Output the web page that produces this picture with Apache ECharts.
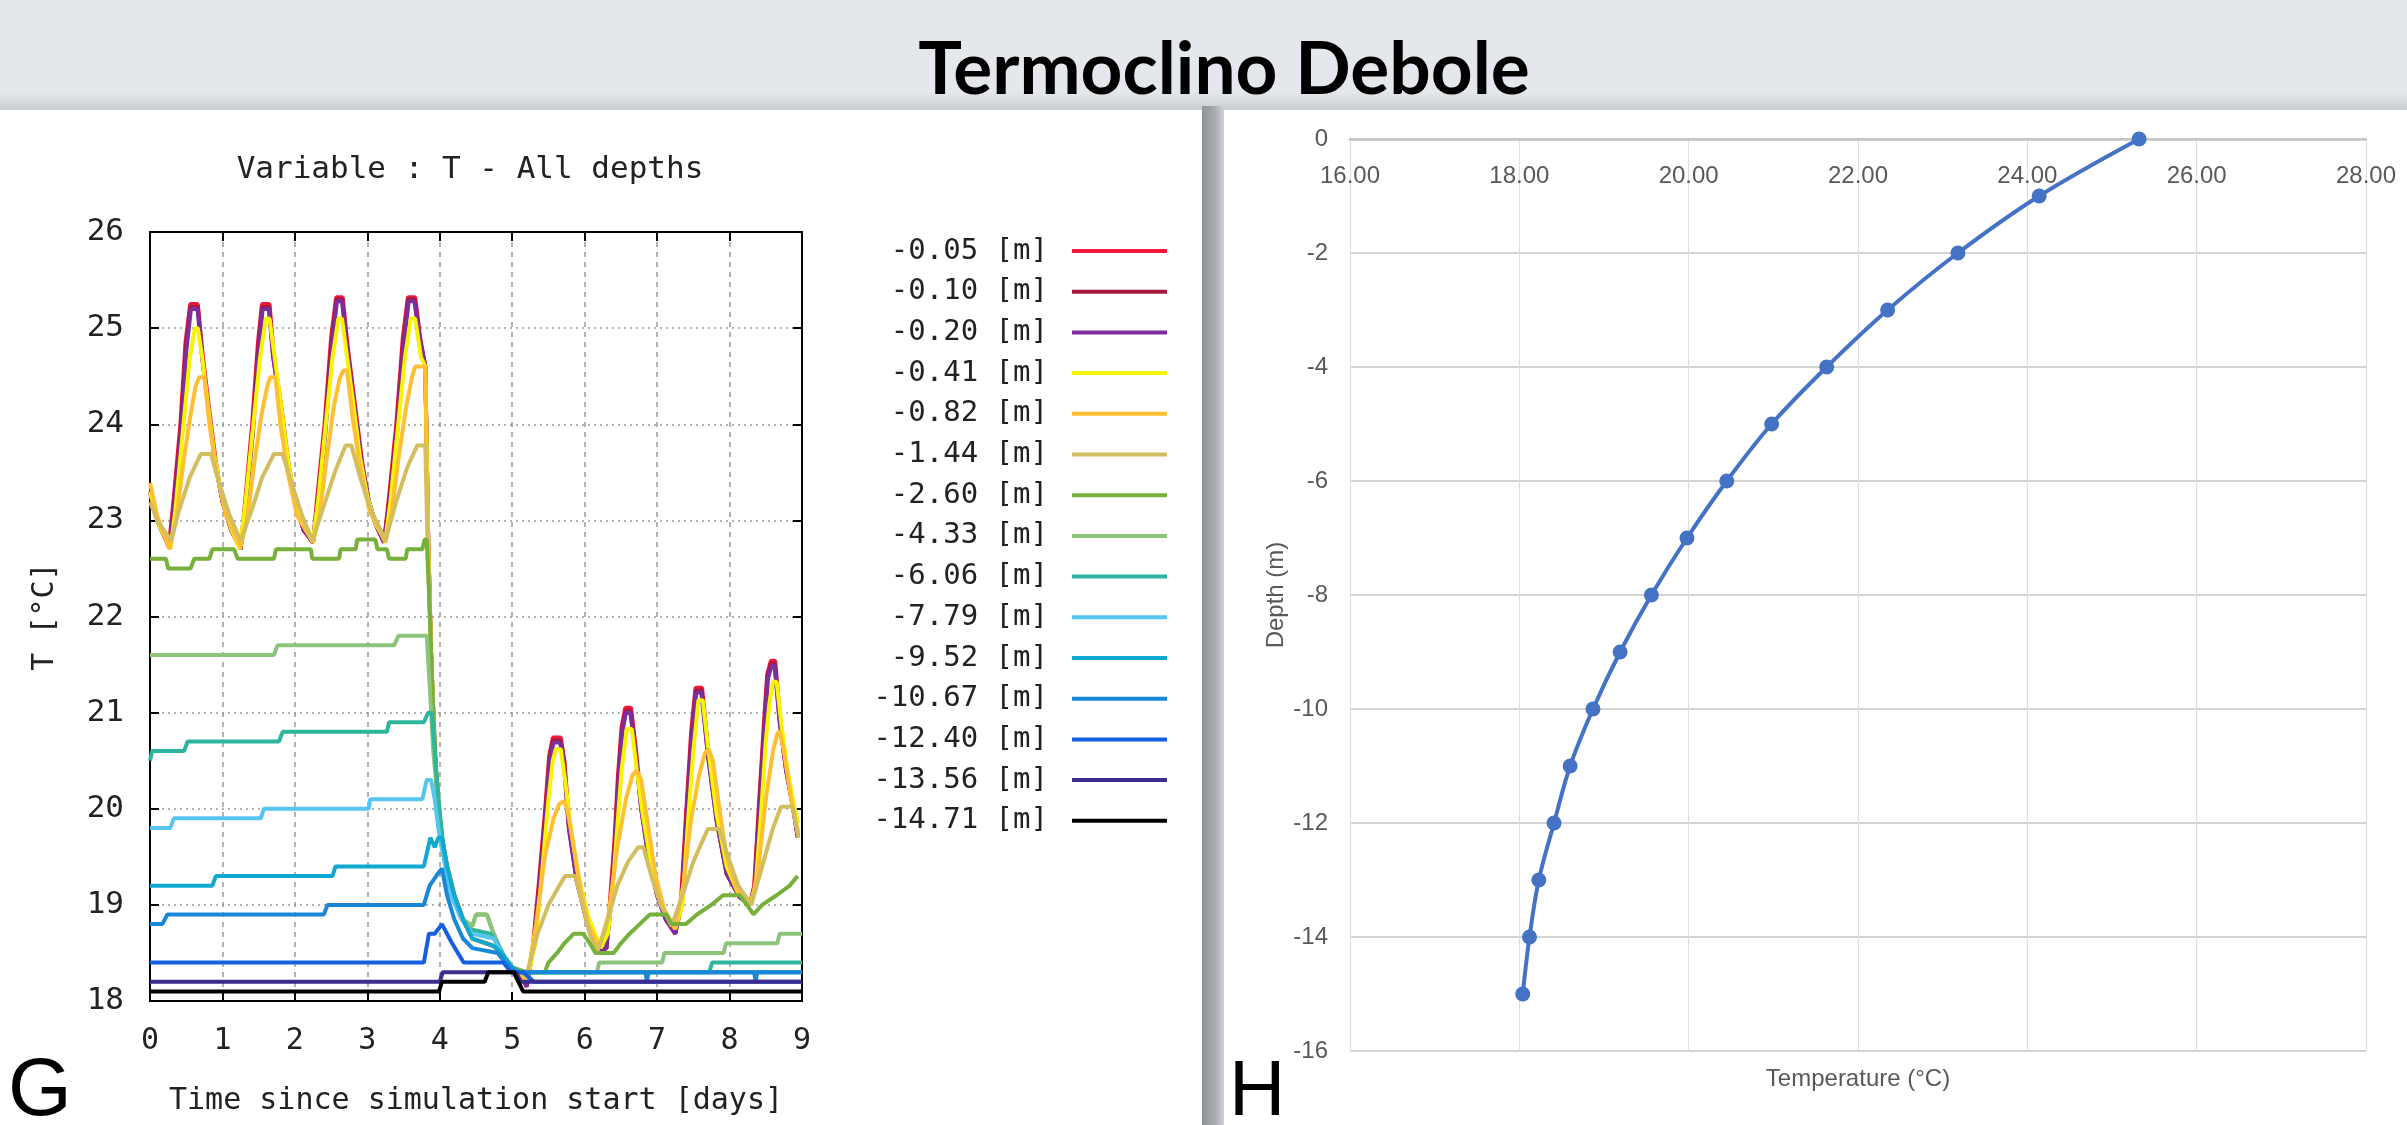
<!DOCTYPE html>
<html><head><meta charset="utf-8">
<script src="https://cdn.jsdelivr.net/npm/echarts/dist/echarts.min.js"></script>
<style>html,body{margin:0;padding:0;background:#e4e7eb;overflow:hidden}#c{width:2407px;height:1125px}</style>
</head><body><div id="c"></div><script>
// ---------- DATA: left chart (T vs time, all depths) ----------
const depthNames = ['-0.05 [m]','-0.10 [m]','-0.20 [m]','-0.41 [m]','-0.82 [m]','-1.44 [m]','-2.60 [m]','-4.33 [m]','-6.06 [m]','-7.79 [m]','-9.52 [m]','-10.67 [m]','-12.40 [m]','-13.56 [m]','-14.71 [m]'];
const xTicksDays = [0,1,2,3,4,5,6,7,8,9];
const yTicksT = [18,19,20,21,22,23,24,25,26];

const d005 = [[0,23.3],[0.1,23.0],[0.26,22.72],[0.33,23.25],[0.42,24.0],[0.49,24.85],[0.555,25.25],[0.66,25.25],[0.73,24.7],[0.81,24.2],[0.91,23.6],[1.0,23.2],[1.12,22.9],[1.25,22.7],
[1.32,23.25],[1.41,24.0],[1.49,24.85],[1.545,25.25],[1.65,25.25],[1.71,24.7],[1.81,24.2],[1.91,23.6],[2.0,23.2],[2.12,22.9],[2.25,22.77],
[2.31,23.25],[2.41,24.0],[2.5,24.9],[2.57,25.32],[2.66,25.32],[2.73,24.8],[2.83,24.2],[2.93,23.6],[3.02,23.2],[3.12,22.95],[3.23,22.77],
[3.3,23.25],[3.4,24.0],[3.49,24.9],[3.56,25.32],[3.66,25.32],[3.73,24.9],[3.8,24.6],[3.84,22.8],[3.88,21.6],[3.93,20.6],[3.98,20.0],[4.03,19.7],[4.1,19.4],[4.2,19.1],[4.32,18.85],[4.45,18.65],[4.75,18.57],[4.85,18.5],[5.0,18.35],[5.1,18.3],[5.2,18.15],
[5.29,18.6],[5.37,19.25],[5.45,19.95],[5.51,20.55],[5.56,20.74],[5.67,20.74],[5.72,20.5],[5.79,19.8],[5.9,19.25],[6.03,18.83],[6.2,18.52],[6.3,18.55],
[6.34,18.95],[6.41,19.65],[6.46,20.35],[6.51,20.85],[6.56,21.05],[6.64,21.05],[6.71,20.6],[6.79,20.0],[6.89,19.5],[7.0,19.1],[7.12,18.85],[7.25,18.7],
[7.33,19.05],[7.4,19.95],[7.47,20.8],[7.53,21.26],[7.62,21.26],[7.71,20.57],[7.83,19.88],[7.97,19.32],[8.14,19.08],[8.28,19.0],
[8.34,19.2],[8.41,20.1],[8.48,20.95],[8.52,21.4],[8.57,21.54],[8.63,21.54],[8.7,20.92],[8.79,20.4],[8.88,20.0],[8.94,19.7]];

const d010 = [[0,23.3],[0.1,23.0],[0.27,22.72],[0.335,23.22],[0.425,23.95],[0.495,24.8],[0.56,25.22],[0.66,25.22],[0.72,24.7],[0.8,24.2],[0.9,23.6],[1.0,23.2],[1.12,22.9],[1.25,22.7],
[1.325,23.22],[1.415,23.95],[1.495,24.8],[1.55,25.22],[1.645,25.22],[1.7,24.7],[1.8,24.2],[1.9,23.6],[2.0,23.2],[2.12,22.9],[2.25,22.77],
[2.315,23.22],[2.415,23.95],[2.505,24.85],[2.575,25.3],[2.655,25.3],[2.72,24.8],[2.82,24.2],[2.92,23.6],[3.02,23.2],[3.12,22.95],[3.23,22.77],
[3.305,23.22],[3.405,23.95],[3.495,24.85],[3.565,25.3],[3.655,25.3],[3.72,24.9],[3.8,24.6],[3.84,22.8],[3.88,21.6],[3.93,20.6],[3.98,20.0],[4.03,19.7],[4.1,19.4],[4.2,19.1],[4.32,18.85],[4.45,18.65],[4.75,18.57],[4.85,18.5],[5.0,18.35],[5.1,18.3],[5.2,18.15],
[5.295,18.6],[5.375,19.22],[5.455,19.92],[5.515,20.52],[5.565,20.71],[5.665,20.71],[5.715,20.5],[5.785,19.8],[5.89,19.25],[6.03,18.83],[6.2,18.52],[6.3,18.55],
[6.345,18.92],[6.415,19.62],[6.465,20.32],[6.515,20.82],[6.565,21.02],[6.635,21.02],[6.7,20.6],[6.78,20.0],[6.88,19.5],[7.0,19.1],[7.12,18.85],[7.25,18.7],
[7.335,19.02],[7.405,19.92],[7.475,20.77],[7.535,21.23],[7.615,21.23],[7.7,20.57],[7.82,19.88],[7.96,19.32],[8.14,19.08],[8.28,19.0],
[8.345,19.19],[8.415,20.07],[8.485,20.93],[8.525,21.37],[8.575,21.51],[8.625,21.51],[8.69,20.92],[8.78,20.4],[8.88,20.0],[8.94,19.71]];

const d020 = [[0,23.3],[0.1,23.0],[0.27,22.72],[0.34,23.2],[0.43,23.9],[0.5,24.75],[0.565,25.2],[0.655,25.2],[0.72,24.7],[0.8,24.2],[0.9,23.6],[1.0,23.2],[1.12,22.9],[1.25,22.7],
[1.33,23.2],[1.42,23.9],[1.5,24.75],[1.555,25.2],[1.64,25.2],[1.7,24.7],[1.8,24.2],[1.9,23.6],[2.0,23.2],[2.12,22.9],[2.25,22.77],
[2.32,23.2],[2.42,23.9],[2.51,24.8],[2.58,25.28],[2.65,25.28],[2.72,24.8],[2.82,24.2],[2.92,23.6],[3.02,23.2],[3.12,22.95],[3.23,22.77],
[3.31,23.2],[3.41,23.9],[3.5,24.8],[3.57,25.28],[3.65,25.28],[3.72,24.9],[3.8,24.6],[3.84,22.8],[3.88,21.6],[3.93,20.6],[3.98,20.0],[4.03,19.7],[4.1,19.4],[4.2,19.1],[4.32,18.85],[4.45,18.65],[4.75,18.57],[4.85,18.5],[5.0,18.35],[5.1,18.3],[5.2,18.15],
[5.3,18.6],[5.38,19.2],[5.46,19.9],[5.52,20.5],[5.57,20.69],[5.66,20.69],[5.71,20.5],[5.78,19.8],[5.89,19.25],[6.03,18.83],[6.2,18.52],[6.3,18.55],
[6.35,18.9],[6.42,19.6],[6.47,20.3],[6.52,20.8],[6.57,21.0],[6.63,21.0],[6.7,20.6],[6.78,20.0],[6.88,19.5],[7.0,19.1],[7.12,18.85],[7.25,18.7],
[7.34,19.0],[7.41,19.9],[7.48,20.75],[7.54,21.21],[7.61,21.21],[7.7,20.57],[7.82,19.88],[7.96,19.32],[8.14,19.08],[8.28,19.0],
[8.35,19.18],[8.42,20.05],[8.49,20.92],[8.53,21.35],[8.58,21.49],[8.62,21.49],[8.69,20.92],[8.78,20.4],[8.88,20.0],[8.94,19.72]];

const d041 = [[0,23.3],[0.1,23.0],[0.28,22.7],[0.35,23.1],[0.45,23.9],[0.55,24.7],[0.62,25.0],[0.66,25.0],[0.72,24.7],[0.79,24.26],[0.89,23.67],[1.0,23.22],[1.12,22.91],[1.24,22.7],
[1.32,23.2],[1.42,23.95],[1.52,24.7],[1.6,25.1],[1.65,25.1],[1.72,24.7],[1.8,24.25],[1.9,23.65],[2.0,23.2],[2.12,22.95],[2.25,22.8],
[2.32,23.2],[2.42,23.95],[2.52,24.7],[2.6,25.1],[2.65,25.1],[2.72,24.7],[2.8,24.25],[2.9,23.65],[3.0,23.25],[3.12,22.95],[3.25,22.8],
[3.32,23.2],[3.42,23.95],[3.52,24.7],[3.6,25.1],[3.66,25.1],[3.74,24.7],[3.8,24.6],[3.84,22.8],[3.88,21.6],[3.93,20.6],[3.98,20.0],[4.03,19.7],[4.1,19.4],[4.2,19.1],[4.32,18.85],[4.45,18.65],[4.75,18.57],[4.85,18.5],[5.0,18.35],[5.1,18.3],[5.2,18.2],
[5.32,18.6],[5.42,19.4],[5.5,20.1],[5.56,20.5],[5.6,20.62],[5.67,20.62],[5.73,20.3],[5.8,19.85],[5.9,19.35],[6.04,18.9],[6.22,18.55],
[6.32,18.7],[6.38,19.1],[6.45,19.8],[6.51,20.4],[6.58,20.83],[6.65,20.83],[6.72,20.4],[6.8,19.95],[6.9,19.5],[7.02,19.1],[7.14,18.88],[7.25,18.75],
[7.35,19.0],[7.43,19.9],[7.5,20.6],[7.57,21.13],[7.63,21.13],[7.71,20.6],[7.82,19.95],[7.96,19.4],[8.12,19.12],[8.28,19.0],
[8.36,19.2],[8.44,20.0],[8.5,20.7],[8.55,21.1],[8.6,21.32],[8.65,21.32],[8.72,20.85],[8.8,20.4],[8.9,20.0],[8.95,19.85]];

const d082 = [[0,23.39],[0.1,23.05],[0.27,22.7],[0.36,23.0],[0.46,23.6],[0.56,24.1],[0.63,24.4],[0.68,24.49],[0.75,24.49],[0.82,24.0],[0.92,23.5],[1.05,23.05],[1.25,22.72],
[1.34,23.0],[1.44,23.6],[1.54,24.1],[1.62,24.4],[1.66,24.49],[1.73,24.49],[1.8,24.0],[1.9,23.5],[2.03,23.05],[2.25,22.77],
[2.34,23.05],[2.44,23.65],[2.54,24.2],[2.62,24.48],[2.67,24.56],[2.72,24.56],[2.8,24.05],[2.9,23.55],[3.03,23.1],[3.25,22.77],
[3.34,23.1],[3.44,23.7],[3.54,24.2],[3.62,24.5],[3.66,24.6],[3.8,24.6],[3.84,22.8],[3.88,21.6],[3.93,20.6],[3.98,20.0],[4.03,19.7],[4.1,19.4],[4.2,19.1],[4.32,18.85],[4.45,18.65],[4.75,18.57],[4.85,18.5],[5.0,18.35],[5.1,18.3],[5.2,18.2],
[5.33,18.8],[5.45,19.5],[5.57,19.9],[5.65,20.05],[5.71,20.08],[5.76,20.0],[5.85,19.6],[5.95,19.15],[6.05,18.8],[6.2,18.55],
[6.33,18.9],[6.45,19.6],[6.57,20.1],[6.66,20.35],[6.72,20.4],[6.78,20.3],[6.88,19.8],[6.98,19.3],[7.1,18.95],[7.25,18.75],
[7.36,19.2],[7.47,19.9],[7.58,20.35],[7.66,20.58],[7.71,20.62],[7.77,20.5],[7.86,20.0],[7.96,19.5],[8.1,19.15],[8.3,19.0],
[8.4,19.4],[8.5,20.1],[8.6,20.6],[8.66,20.78],[8.69,20.81],[8.75,20.6],[8.85,20.1],[8.95,19.75]];

const d144 = [[0,23.19],[0.1,23.0],[0.29,22.79],[0.4,23.1],[0.55,23.45],[0.7,23.69],[0.84,23.69],[0.95,23.4],[1.1,23.05],[1.25,22.79],
[1.4,23.1],[1.55,23.45],[1.71,23.69],[1.83,23.69],[1.95,23.4],[2.1,23.05],[2.24,22.79],
[2.4,23.15],[2.55,23.5],[2.7,23.78],[2.78,23.78],[2.9,23.45],[3.05,23.1],[3.12,23.0],[3.25,22.79],
[3.4,23.2],[3.55,23.55],[3.69,23.78],[3.8,23.78],[3.83,22.8],[3.88,21.6],[3.93,20.6],[3.98,20.0],[4.03,19.7],[4.1,19.4],[4.2,19.1],[4.32,18.85],[4.45,18.65],[4.75,18.57],[4.85,18.5],[5.0,18.35],[5.1,18.3],[5.2,18.28],
[5.35,18.7],[5.5,19.0],[5.65,19.2],[5.73,19.3],[5.87,19.3],[5.97,19.0],[6.07,18.7],[6.17,18.5],
[6.3,18.8],[6.45,19.2],[6.6,19.45],[6.74,19.6],[6.81,19.6],[6.92,19.3],[7.05,19.0],[7.2,18.78],
[7.35,19.1],[7.5,19.45],[7.7,19.79],[7.86,19.79],[7.98,19.5],[8.12,19.2],[8.3,19.0],
[8.45,19.4],[8.6,19.8],[8.71,20.02],[8.87,20.02],[8.95,19.7]];

const d260 = [[0,22.6],[0.22,22.6],[0.25,22.5],[0.56,22.5],[0.61,22.6],[0.82,22.6],[0.86,22.7],[1.16,22.7],[1.21,22.6],[1.71,22.6],[1.74,22.7],[2.22,22.7],[2.24,22.6],[2.61,22.6],[2.63,22.7],[2.84,22.7],[2.86,22.8],[3.11,22.8],[3.14,22.7],[3.27,22.7],[3.3,22.6],[3.53,22.6],[3.55,22.7],[3.76,22.7],[3.79,22.8],[3.82,22.8],
[3.86,22.1],[3.9,21.2],[3.95,20.4],[4.0,19.95],[4.03,19.7],[4.1,19.4],[4.2,19.1],[4.32,18.85],[4.45,18.78],[4.5,18.9],[4.65,18.9],[4.72,18.75],[4.85,18.5],[5.0,18.35],[5.2,18.3],
[5.45,18.3],[5.5,18.4],[5.62,18.5],[5.72,18.6],[5.85,18.7],[5.98,18.7],[6.07,18.6],[6.15,18.5],[6.4,18.5],[6.5,18.6],[6.62,18.7],[6.76,18.8],[6.9,18.9],[7.13,18.9],[7.2,18.8],[7.4,18.8],[7.55,18.9],[7.75,19.0],[7.91,19.1],[8.14,19.1],[8.24,19.0],[8.33,18.9],[8.45,19.0],[8.65,19.1],[8.83,19.2],[8.94,19.3]];

const d433 = [[0,21.6],[1.71,21.6],[1.76,21.7],[3.37,21.7],[3.43,21.8],[3.82,21.8],[3.86,21.3],[3.91,20.6],[3.97,20.1],[4.03,19.7],[4.1,19.4],[4.2,19.1],[4.32,18.85],[4.45,18.78],[4.5,18.9],[4.65,18.9],[4.72,18.75],[4.85,18.5],[5.0,18.35],[5.1,18.3],
[6.17,18.3],[6.2,18.4],[7.07,18.4],[7.1,18.5],[7.92,18.5],[7.95,18.6],[8.66,18.6],[8.69,18.7],[9,18.7]];

const d606 = [[0,20.5],[0.03,20.6],[0.47,20.6],[0.52,20.7],[1.78,20.7],[1.83,20.8],[3.27,20.8],[3.3,20.9],[3.78,20.9],[3.84,21.0],[3.89,21.0],[3.93,20.6],[3.98,20.1],[4.05,19.6],[4.15,19.2],[4.27,18.9],[4.4,18.75],[4.7,18.7],[4.8,18.6],[4.9,18.45],[5.0,18.35],[5.1,18.3],
[7.72,18.3],[7.76,18.4],[9,18.4]];

const d779 = [[0,19.8],[0.28,19.8],[0.33,19.9],[1.53,19.9],[1.57,20.0],[3.02,20.0],[3.04,20.1],[3.76,20.1],[3.82,20.3],[3.88,20.3],[3.93,20.1],[3.98,19.8],[4.05,19.5],[4.15,19.1],[4.3,18.85],[4.45,18.7],[4.75,18.65],[4.85,18.5],[4.95,18.4],[5.05,18.3],[9,18.3]];

const d952 = [[0,19.2],[0.86,19.2],[0.91,19.3],[2.52,19.3],[2.56,19.4],[3.78,19.4],[3.84,19.6],[3.87,19.7],[3.93,19.6],[3.98,19.7],[4.03,19.7],[4.1,19.4],[4.2,19.1],[4.32,18.85],[4.45,18.65],[4.75,18.57],[4.85,18.5],[5.0,18.35],[5.1,18.3],[9,18.3]];

const d1067 = [[0,18.8],[0.17,18.8],[0.24,18.9],[2.4,18.9],[2.45,19.0],[3.78,19.0],[3.86,19.2],[3.95,19.3],[4.03,19.38],[4.1,19.1],[4.2,18.85],[4.32,18.65],[4.45,18.55],[4.8,18.5],[4.9,18.4],[5.05,18.3],
[6.84,18.3],[6.86,18.2],[6.88,18.3],[8.34,18.3],[8.36,18.2],[8.38,18.3],[9,18.3]];

const d1240 = [[0,18.4],[3.78,18.4],[3.85,18.7],[3.93,18.7],[4.03,18.8],[4.1,18.7],[4.17,18.6],[4.25,18.5],[4.33,18.4],[4.88,18.4],[4.98,18.3],[5.15,18.3],[5.3,18.2],[9,18.2]];

const d1356 = [[0,18.2],[4.0,18.2],[4.04,18.3],[5.05,18.3],[5.12,18.2],[9,18.2]];

const d1471 = [[0,18.1],[3.99,18.1],[4.03,18.2],[4.62,18.2],[4.67,18.3],[5.02,18.3],[5.15,18.1],[9,18.1]];

const leftSeriesData = [d005,d010,d020,d041,d082,d144,d260,d433,d606,d779,d952,d1067,d1240,d1356,d1471];

// ---------- DATA: right chart (profile) ----------
const profileDepth = [0,-1,-2,-3,-4,-5,-6,-7,-8,-9,-10,-11,-12,-13,-14,-15];
const profileTemp  = [25.32,24.14,23.18,22.35,21.63,20.98,20.45,19.98,19.56,19.19,18.87,18.60,18.41,18.23,18.12,18.04];
const tempTicks = [16,18,20,22,24,26,28];
const depthTicks = [0,-2,-4,-6,-8,-10,-12,-14,-16];

// ---------- STYLES ----------
const lineColors = ['#f2183a','#a8183c','#7d2e9e','#f5f500','#ffbf33','#d2bd5f','#77b03a','#8cc47c','#2db59d','#56c6f0','#0fa8d0','#1a86d8','#1660e0','#3a2d8f','#000000'];
const mono = "'DejaVu Sans Mono', 'Liberation Mono', monospace";
const sans = "'Liberation Sans', Arial, sans-serif";

const chart = echarts.init(document.getElementById('c'), null, {renderer:'canvas'});

const leftSeries = leftSeriesData.map((d,i)=>({
  type:'line', name: depthNames[i], xAxisIndex:0, yAxisIndex:0,
  data: d, showSymbol:false, symbol:'none', animation:false,
  lineStyle:{width:4,color:lineColors[i]}, itemStyle:{color:lineColors[i]},
  emphasis:{disabled:true}
}));

const profileSeries = {
  type:'line', name:'profile', xAxisIndex:2, yAxisIndex:2,
  data: profileTemp.map((t,i)=>[t, profileDepth[i]]),
  smooth:0.35, symbol:'circle', symbolSize:15, showSymbol:true, animation:false,
  lineStyle:{width:4,color:'#4472c4'}, itemStyle:{color:'#4472c4'},
  emphasis:{disabled:true}
};

const blackLine = {show:true,onZero:false,lineStyle:{color:'#000',width:2}};
const inTick = {show:true,inside:true,length:9,lineStyle:{color:'#000',width:2}};

const option = {
  backgroundColor:'#e4e7eb',
  animation:false,
  graphic:[
    {type:'rect', z:-5, shape:{x:0,y:92,width:2407,height:18}, style:{fill:new echarts.graphic.LinearGradient(0,0,0,1,[{offset:0,color:'#e4e7eb'},{offset:1,color:'#c9cdd2'}])}, silent:true},
    {type:'rect', z:-4, shape:{x:0,y:110,width:1202,height:1015}, style:{fill:'#ffffff'}, silent:true},
    {type:'rect', z:-4, shape:{x:1202,y:106,width:22,height:1019}, style:{fill:new echarts.graphic.LinearGradient(0,0,1,0,[{offset:0,color:'#8f9296'},{offset:0.6,color:'#a9acb0'},{offset:1,color:'#cfd2d6'}])}, silent:true},
    {type:'rect', z:-4, shape:{x:1224,y:110,width:1183,height:1015}, style:{fill:'#ffffff'}, silent:true}
  ],
  title:[
    {text:'Termoclino Debole', left:1224, top:70, textAlign:'center', textVerticalAlign:'middle', padding:0,
     textStyle:{fontFamily:"Lato, 'Noto Sans', sans-serif", fontWeight:'bold', fontSize:73, color:'#000'}},
    {text:'Variable : T - All depths', left:470, top:170, textAlign:'center', textVerticalAlign:'middle', padding:0,
     textStyle:{fontFamily:mono, fontWeight:'normal', fontSize:31, color:'#222'}},
    {text:'G', left:8, top:1092, textAlign:'left', textVerticalAlign:'middle', padding:0,
     textStyle:{fontFamily:sans, fontWeight:'normal', fontSize:82, color:'#000'}},
    {text:'H', left:1229, top:1093, textAlign:'left', textVerticalAlign:'middle', padding:0,
     textStyle:{fontFamily:sans, fontWeight:'normal', fontSize:78, color:'#000'}}
  ],
  legend:{
    data: depthNames, orient:'vertical', align:'right', right:1240, top:236, padding:0,
    itemWidth:95, itemHeight:4, itemGap:10.7, icon:'rect', selectedMode:false,
    textStyle:{fontFamily:mono, fontSize:29, color:'#222', lineHeight:30, padding:[0,19,0,0]}
  },
  grid:[
    {left:150, top:232, width:652, height:769, outerBoundsMode:'none', containLabel:false},
    {left:1350, top:139, width:1016, height:912, outerBoundsMode:'none', containLabel:false}
  ],
  xAxis:[
    {gridIndex:0, type:'value', min:0, max:9, interval:1, position:'bottom',
     axisLine:blackLine, axisTick:inTick,
     axisLabel:{margin:25, fontFamily:mono, fontSize:30, color:'#222', formatter:v=>xTicksDays.includes(v)?String(v):''},
     splitLine:{show:true, lineStyle:{color:'#9a9a9a', width:1.5, type:[5,5]}},
     name:'Time since simulation start [days]', nameLocation:'middle', nameGap:85, nameMoveOverlap:false,
     nameTextStyle:{fontFamily:mono, fontSize:30, color:'#222'}},
    {gridIndex:0, type:'value', min:0, max:9, interval:1, position:'top',
     axisLine:blackLine, axisTick:inTick, axisLabel:{show:false}, splitLine:{show:false}},
    {gridIndex:1, type:'value', min:16, max:28, interval:2, position:'top',
     axisLine:{show:true,onZero:false,lineStyle:{color:'#c4c4c4',width:2.5}}, axisTick:{show:false},
     axisLabel:{inside:true, margin:25, fontFamily:sans, fontSize:24, color:'#595959', formatter:v=>tempTicks.includes(v)?v.toFixed(2):''},
     splitLine:{show:true, lineStyle:{color:'#dedede', width:1.2}}},
    {gridIndex:1, type:'value', min:16, max:28, interval:2, position:'bottom',
     axisLine:{show:false}, axisTick:{show:false}, axisLabel:{show:false}, splitLine:{show:false},
     name:'Temperature (°C)', nameLocation:'middle', nameGap:16, nameMoveOverlap:false,
     nameTextStyle:{fontFamily:sans, fontSize:24, color:'#595959'}}
  ],
  yAxis:[
    {gridIndex:0, type:'value', min:18, max:26, interval:1, position:'left',
     axisLine:blackLine, axisTick:inTick,
     axisLabel:{margin:26, fontFamily:mono, fontSize:31, color:'#222', formatter:v=>yTicksT.includes(v)?String(v):''},
     splitLine:{show:true, lineStyle:{color:'#9a9a9a', width:1.5, type:[2,4]}},
     name:'T [°C]', nameLocation:'middle', nameGap:90, nameMoveOverlap:false,
     nameTextStyle:{fontFamily:mono, fontSize:30, color:'#222'}},
    {gridIndex:0, type:'value', min:18, max:26, interval:1, position:'right',
     axisLine:blackLine, axisTick:inTick, axisLabel:{show:false}, splitLine:{show:false}},
    {gridIndex:1, type:'value', min:-16, max:0, interval:2, position:'left',
     axisLine:{show:false}, axisTick:{show:false},
     axisLabel:{margin:22, fontFamily:sans, fontSize:24, color:'#595959', formatter:v=>depthTicks.includes(v)?String(v):''},
     splitLine:{show:true, lineStyle:{color:'#d4d4d4', width:2}},
     name:'Depth (m)', nameLocation:'middle', nameGap:62, nameMoveOverlap:false,
     nameTextStyle:{fontFamily:sans, fontSize:24, color:'#595959'}}
  ],
  series: leftSeries.concat([profileSeries])
};
chart.setOption(option);
</script></body></html>
